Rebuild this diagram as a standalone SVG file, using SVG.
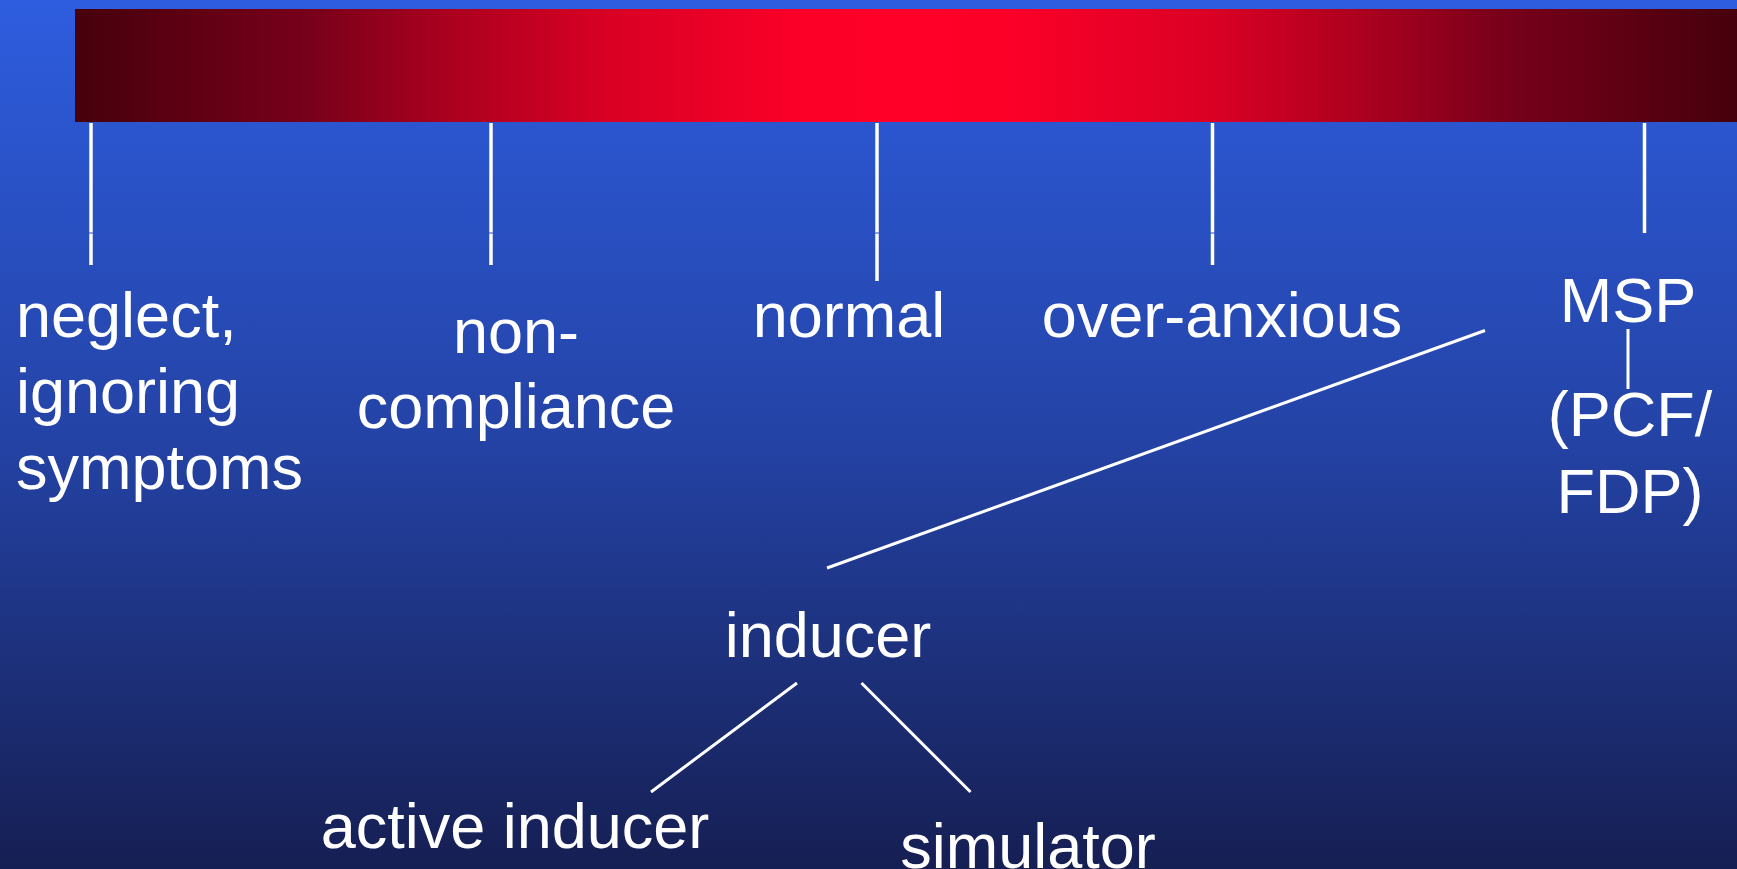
<svg xmlns="http://www.w3.org/2000/svg" width="1737" height="869" viewBox="0 0 1737 869">
  <defs>
    <linearGradient id="bg" x1="0" y1="0" x2="0" y2="1">
      <stop offset="0" stop-color="#2e5ddf"/>
      <stop offset="0.5" stop-color="#2443a6"/>
      <stop offset="1" stop-color="#161f53"/>
    </linearGradient>
    <linearGradient id="bar" x1="0" y1="0" x2="1" y2="0">
      <stop offset="0" stop-color="#46000c"/>
      <stop offset="0.14" stop-color="#78001a"/>
      <stop offset="0.23" stop-color="#ae001f"/>
      <stop offset="0.32" stop-color="#d80024"/>
      <stop offset="0.44" stop-color="#fc0028"/>
      <stop offset="0.5" stop-color="#ff0028"/>
      <stop offset="0.56" stop-color="#fc0028"/>
      <stop offset="0.68" stop-color="#dc0025"/>
      <stop offset="0.77" stop-color="#ae001f"/>
      <stop offset="0.86" stop-color="#78001a"/>
      <stop offset="1" stop-color="#46000c"/>
    </linearGradient>
    <style>
      .t { font-family: "Liberation Sans", Arial, sans-serif; font-size: 63px; fill: #ffffff; }
      .c { text-anchor: middle; }
      .ln { stroke: #ffffff; stroke-width: 3; fill: none; }
      .tk { stroke: #ffffff; stroke-width: 3.5; fill: none; }
    </style>
  </defs>
  <rect x="0" y="0" width="1737" height="869" fill="url(#bg)"/>
  <rect id="scale-bar" x="75" y="9" width="1662" height="113" fill="url(#bar)"/>

  <g id="connectors">
    <line class="tk" x1="91" y1="123" x2="91" y2="232.5"/>
    <line class="tk" x1="91" y1="233.5" x2="91" y2="265"/>
    <line class="tk" x1="491" y1="123" x2="491" y2="232.5"/>
    <line class="tk" x1="491" y1="233.5" x2="491" y2="265"/>
    <line class="tk" x1="877" y1="123" x2="877" y2="232.5"/>
    <line class="tk" x1="877" y1="233.5" x2="877" y2="281"/>
    <line class="tk" x1="1212.5" y1="123" x2="1212.5" y2="232.5"/>
    <line class="tk" x1="1212.5" y1="233.5" x2="1212.5" y2="265"/>
    <line class="tk" x1="1644.5" y1="123" x2="1644.5" y2="233"/>
    <line class="ln" x1="1628" y1="329" x2="1628" y2="389"/>
    <line class="ln" x1="1485" y1="330.5" x2="827" y2="568"/>
    <line class="ln" x1="797" y1="683" x2="651" y2="792"/>
    <line class="ln" x1="861.5" y1="683" x2="970.5" y2="792"/>
  </g>

  <g id="node-neglect">
    <text class="t" x="16" y="337">neglect,</text>
    <text class="t" x="16" y="413">ignoring</text>
    <text class="t" x="16" y="489">symptoms</text>
  </g>
  <g id="node-noncompliance">
    <text class="t c" x="516" y="353">non-</text>
    <text class="t c" x="516" y="428">compliance</text>
  </g>
  <g id="node-normal">
    <text class="t c" x="849" y="337">normal</text>
  </g>
  <g id="node-overanxious">
    <text class="t c" x="1222" y="337">over-anxious</text>
  </g>
  <g id="node-msp">
    <text class="t c" x="1628" y="322">MSP</text>
  </g>
  <g id="node-pcf">
    <text class="t c" x="1630" y="436">(PCF/</text>
    <text class="t c" x="1630" y="513">FDP)</text>
  </g>
  <g id="node-inducer">
    <text class="t c" x="828" y="657">inducer</text>
  </g>
  <g id="node-active">
    <text class="t c" x="515" y="848">active inducer</text>
  </g>
  <g id="node-simulator">
    <text class="t c" x="1028" y="868">simulator</text>
  </g>
</svg>
